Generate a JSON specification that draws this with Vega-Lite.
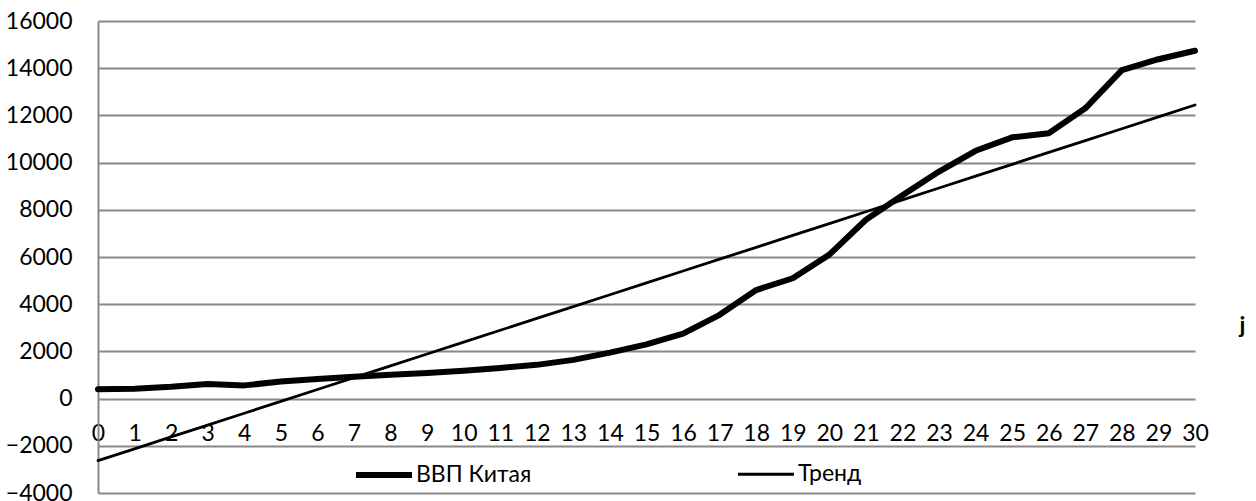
{
  "$schema": "https://vega.github.io/schema/vega-lite/v6.json",
  "width": 1097,
  "height": 472,
  "autosize": {"type": "none"},
  "padding": {"left": 98, "top": 21, "right": 61, "bottom": 8},
  "background": "white",
  "config": {
    "view": {"stroke": null},
    "font": "Lato",
    "axis": {"labelFont": "Lato", "labelFontSize": 23, "labelColor": "#000000", "titleFont": "Lato"},
    "legend": {"labelFont": "Lato", "labelFontSize": 23, "labelColor": "#000000"}
  },
  "data": {
    "values": [
      {"j": 0, "series": "ВВП Китая", "value": 400},
      {"j": 1, "series": "ВВП Китая", "value": 420},
      {"j": 2, "series": "ВВП Китая", "value": 500},
      {"j": 3, "series": "ВВП Китая", "value": 620},
      {"j": 4, "series": "ВВП Китая", "value": 560},
      {"j": 5, "series": "ВВП Китая", "value": 720},
      {"j": 6, "series": "ВВП Китая", "value": 830},
      {"j": 7, "series": "ВВП Китая", "value": 930},
      {"j": 8, "series": "ВВП Китая", "value": 1010},
      {"j": 9, "series": "ВВП Китая", "value": 1080},
      {"j": 10, "series": "ВВП Китая", "value": 1180},
      {"j": 11, "series": "ВВП Китая", "value": 1300},
      {"j": 12, "series": "ВВП Китая", "value": 1430},
      {"j": 13, "series": "ВВП Китая", "value": 1640},
      {"j": 14, "series": "ВВП Китая", "value": 1950},
      {"j": 15, "series": "ВВП Китая", "value": 2300},
      {"j": 16, "series": "ВВП Китая", "value": 2750},
      {"j": 17, "series": "ВВП Китая", "value": 3550},
      {"j": 18, "series": "ВВП Китая", "value": 4600},
      {"j": 19, "series": "ВВП Китая", "value": 5100},
      {"j": 20, "series": "ВВП Китая", "value": 6100},
      {"j": 21, "series": "ВВП Китая", "value": 7580},
      {"j": 22, "series": "ВВП Китая", "value": 8620},
      {"j": 23, "series": "ВВП Китая", "value": 9620},
      {"j": 24, "series": "ВВП Китая", "value": 10500},
      {"j": 25, "series": "ВВП Китая", "value": 11070},
      {"j": 26, "series": "ВВП Китая", "value": 11240},
      {"j": 27, "series": "ВВП Китая", "value": 12300},
      {"j": 28, "series": "ВВП Китая", "value": 13920},
      {"j": 29, "series": "ВВП Китая", "value": 14380},
      {"j": 30, "series": "ВВП Китая", "value": 14740},
      {"j": 0, "series": "Тренд", "value": -2630},
      {"j": 1, "series": "Тренд", "value": -2128},
      {"j": 2, "series": "Тренд", "value": -1625},
      {"j": 3, "series": "Тренд", "value": -1123},
      {"j": 4, "series": "Тренд", "value": -621},
      {"j": 5, "series": "Тренд", "value": -118},
      {"j": 6, "series": "Тренд", "value": 384},
      {"j": 7, "series": "Тренд", "value": 886},
      {"j": 8, "series": "Тренд", "value": 1388},
      {"j": 9, "series": "Тренд", "value": 1891},
      {"j": 10, "series": "Тренд", "value": 2393},
      {"j": 11, "series": "Тренд", "value": 2895},
      {"j": 12, "series": "Тренд", "value": 3398},
      {"j": 13, "series": "Тренд", "value": 3900},
      {"j": 14, "series": "Тренд", "value": 4402},
      {"j": 15, "series": "Тренд", "value": 4905},
      {"j": 16, "series": "Тренд", "value": 5407},
      {"j": 17, "series": "Тренд", "value": 5909},
      {"j": 18, "series": "Тренд", "value": 6411},
      {"j": 19, "series": "Тренд", "value": 6914},
      {"j": 20, "series": "Тренд", "value": 7416},
      {"j": 21, "series": "Тренд", "value": 7918},
      {"j": 22, "series": "Тренд", "value": 8421},
      {"j": 23, "series": "Тренд", "value": 8923},
      {"j": 24, "series": "Тренд", "value": 9425},
      {"j": 25, "series": "Тренд", "value": 9928},
      {"j": 26, "series": "Тренд", "value": 10430},
      {"j": 27, "series": "Тренд", "value": 10932},
      {"j": 28, "series": "Тренд", "value": 11434},
      {"j": 29, "series": "Тренд", "value": 11937},
      {"j": 30, "series": "Тренд", "value": 12439}
    ]
  },
  "mark": {"type": "line", "color": "#000000", "strokeCap": "round", "strokeJoin": "round"},
  "encoding": {
    "x": {
      "field": "j",
      "type": "quantitative",
      "scale": {"domain": [0, 30], "nice": false, "zero": false},
      "axis": {
        "values": [0,1,2,3,4,5,6,7,8,9,10,11,12,13,14,15,16,17,18,19,20,21,22,23,24,25,26,27,28,29,30],
        "offset": -94,
        "domain": false,
        "ticks": false,
        "grid": false,
        "labelPadding": 23,
        "labelBaseline": "top",
        "labelFlush": false,
        "labelOverlap": false,
        "title": "j",
        "titleFontSize": 23,
        "titleFontWeight": "bold",
        "titleColor": "#000000",
        "titleX": 1144,
        "titleY": -74,
        "titleAlign": "center",
        "titleBaseline": "middle",
        "titleAngle": 0
      }
    },
    "y": {
      "field": "value",
      "type": "quantitative",
      "scale": {"domain": [-4000, 16000], "nice": false, "zero": false},
      "axis": {
        "values": [-4000,-2000,0,2000,4000,6000,8000,10000,12000,14000,16000],
        "format": "d",
        "title": null,
        "ticks": false,
        "domain": true,
        "domainColor": "#888888",
        "domainWidth": 2,
        "grid": true,
        "gridColor": "#888888",
        "gridWidth": 2,
        "gridOpacity": 1,
        "labelPadding": 26
      }
    },
    "strokeWidth": {
      "field": "series",
      "type": "nominal",
      "scale": {"domain": ["ВВП Китая", "Тренд"], "range": [6, 2.8]},
      "legend": {
        "title": null,
        "orient": "none",
        "legendX": 255,
        "legendY": 423,
        "direction": "horizontal",
        "columns": 2,
        "columnPadding": 200,
        "symbolType": "stroke",
        "symbolSize": 3136,
        "symbolStrokeColor": "#000000",
        "labelOffset": 1,
        "padding": 0
      }
    },
    "order": {"field": "j", "type": "quantitative"}
  }
}
